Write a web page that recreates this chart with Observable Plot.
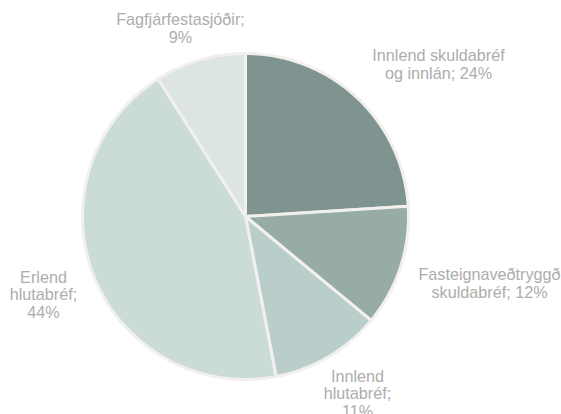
<!DOCTYPE html>
<html><head><meta charset="utf-8">
<script src="https://cdn.jsdelivr.net/npm/d3@7"></script>
<script src="https://cdn.jsdelivr.net/npm/@observablehq/plot@0.6"></script>
<style>body{margin:0;background:#fff}</style>
</head><body><div id="chart"></div>
<script>
// ---- data ----
const categories = ["Innlend skuldabréf og innlán", "Fasteignaveðtryggð skuldabréf", "Innlend hlutabréf", "Erlend hlutabréf", "Fagfjárfestasjóðir"];
const shares = [24, 12, 11, 44, 9];
const labels = ["Innlend skuldabréf\nog innlán; 24%", "Fasteignaveðtryggð\nskuldabréf; 12%", "Innlend\nhlutabréf;\n11%", "Erlend\nhlutabréf;\n44%", "Fagfjárfestasjóðir;\n9%"];

// ---- style / layout ----
const colors = ["#7f9490", "#97aca7", "#b9cdca", "#cbdbd8", "#dce5e4"];
const W = 561, H = 414, cx = 245, cy = 216, R = 163;
const labelPx = [[438, 64], [489, 283], [357, 393], [43, 294], [180, 28]];

const arcs = d3.pie().sort(null).value(d => d)(shares);
const slicePts = [];
arcs.forEach((a, i) => {
  slicePts.push({cat: categories[i], x: 0, y: 0});
  const n = Math.max(4, Math.ceil((a.endAngle - a.startAngle) / 0.01));
  for (let k = 0; k <= n; k++) {
    const t = a.startAngle + (a.endAngle - a.startAngle) * k / n;
    slicePts.push({cat: categories[i], x: Math.sin(t), y: Math.cos(t)});
  }
});
const labelData = labels.map((t, i) => ({
  text: t,
  x: (labelPx[i][0] - cx) / R,
  y: (cy - labelPx[i][1]) / R
}));

const chart = Plot.plot({
  width: W, height: H,
  marginLeft: cx - R, marginRight: W - (cx + R),
  marginTop: cy - R, marginBottom: H - (cy + R),
  x: {domain: [-1, 1], axis: null},
  y: {domain: [-1, 1], axis: null},
  color: {domain: categories, range: colors},
  style: {background: "#fff", overflow: "hidden"},
  marks: [
    Plot.line(slicePts, {x: "x", y: "y", z: "cat", fill: "cat", stroke: "#f2f0ed", strokeWidth: 3, curve: "linear-closed", strokeLinejoin: "round"}),
    Plot.text(labelData, {x: "x", y: "y", text: "text", fill: "#adadad", fontSize: 16.2, fontFamily: "Liberation Sans, Arial, sans-serif", lineHeight: 1.09, textAnchor: "middle", lineAnchor: "middle"})
  ]
});
document.getElementById("chart").appendChild(chart);
</script>
</body></html>
